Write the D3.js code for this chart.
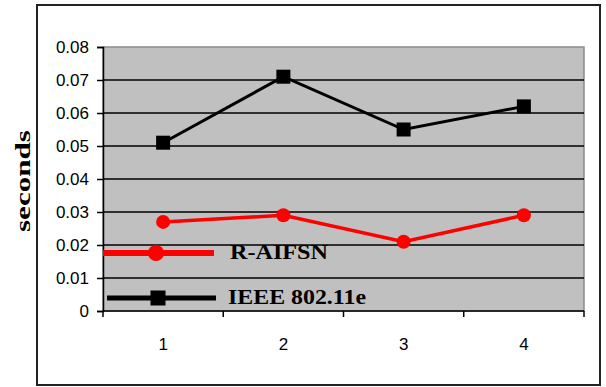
<!DOCTYPE html>
<html>
<head>
<meta charset="utf-8">
<script src="https://cdn.jsdelivr.net/npm/d3@7"></script>
<style>
  body { margin: 0; background: #fff; }
  svg { display: block; }
</style>
</head>
<body>
<div id="chart"></div>
<script>
// data
const categories = ["1", "2", "3", "4"];
const yTicks = [0, 0.01, 0.02, 0.03, 0.04, 0.05, 0.06, 0.07, 0.08];
const raifsn = [0.027, 0.029, 0.021, 0.029];
const ieee = [0.051, 0.071, 0.055, 0.062];
const seriesNames = ["R-AIFSN", "IEEE 802.11e"];

const W = 606, H = 387;
const plot = { left: 103, top: 47, right: 584, bottom: 311 };

const svg = d3.select("#chart").append("svg")
    .attr("width", W)
    .attr("height", H);

// outer frame
svg.append("rect")
    .attr("x", 37).attr("y", 5)
    .attr("width", 563).attr("height", 380)
    .attr("fill", "#fff")
    .attr("stroke", "#222")
    .attr("stroke-width", 2);

const x = d3.scaleBand()
    .domain(categories)
    .range([plot.left, plot.right]);

const y = d3.scaleLinear()
    .domain([0, 0.08])
    .range([plot.bottom, plot.top]);

// plot background
svg.append("rect")
    .attr("x", plot.left).attr("y", plot.top)
    .attr("width", plot.right - plot.left)
    .attr("height", plot.bottom - plot.top)
    .attr("fill", "#c0c0c0")
    .attr("stroke", "#8a8a8a")
    .attr("stroke-width", 1.5);

// gridlines
svg.append("g")
    .selectAll("line")
    .data(yTicks.filter(d => d > 0 && d < 0.08))
    .enter().append("line")
    .attr("x1", plot.left).attr("x2", plot.right)
    .attr("y1", d => y(d)).attr("y2", d => y(d))
    .attr("stroke", "#000")
    .attr("stroke-width", 1.5);

// y axis
const yAxis = svg.append("g")
    .attr("transform", `translate(${plot.left},0)`)
    .call(d3.axisLeft(y).tickValues(yTicks).tickSize(6).tickPadding(8)
        .tickFormat(d => d === 0 ? "0" : d3.format(".2f")(d)));
yAxis.select(".domain").attr("stroke", "#000").attr("stroke-width", 1.5);
yAxis.selectAll(".tick line").attr("stroke", "#000").attr("stroke-width", 1.5);
yAxis.selectAll("text")
    .attr("fill", "#000")
    .style("font-family", "'Liberation Sans', Arial, sans-serif")
    .style("font-size", "17px");

// x axis: ticks sit on band edges, labels in the middle
const xAxis = svg.append("g")
    .attr("transform", `translate(0,${plot.bottom})`);
xAxis.append("line")
    .attr("x1", plot.left).attr("x2", plot.right)
    .attr("stroke", "#000").attr("stroke-width", 1.5);
const edges = categories.map(c => x(c)).concat([x(categories[categories.length - 1]) + x.bandwidth()]);
xAxis.selectAll(".xt")
    .data(edges)
    .enter().append("line")
    .attr("class", "xt")
    .attr("x1", d => d).attr("x2", d => d)
    .attr("y1", 0).attr("y2", 6)
    .attr("stroke", "#000").attr("stroke-width", 1.5);
xAxis.selectAll(".xl")
    .data(categories)
    .enter().append("text")
    .attr("class", "xl")
    .attr("x", d => x(d) + x.bandwidth() / 2)
    .attr("y", 39)
    .attr("text-anchor", "middle")
    .style("font-family", "'Liberation Sans', Arial, sans-serif")
    .style("font-size", "17px")
    .text(d => d);

// y axis title
svg.append("text")
    .attr("transform", "translate(30,181) rotate(-90)")
    .attr("text-anchor", "middle")
    .style("font-family", "'Liberation Serif', 'Times New Roman', serif")
    .style("font-weight", "bold")
    .style("font-size", "21px")
    .attr("textLength", 102)
    .attr("lengthAdjust", "spacingAndGlyphs")
    .text("seconds");

const cx = d => x(d) + x.bandwidth() / 2;
const line = d3.line()
    .x((d, i) => cx(categories[i]))
    .y(d => y(d));

// IEEE 802.11e series
svg.append("path")
    .datum(ieee)
    .attr("d", line)
    .attr("fill", "none")
    .attr("stroke", "#000")
    .attr("stroke-width", 3);
svg.selectAll(".sq")
    .data(ieee)
    .enter().append("rect")
    .attr("class", "sq")
    .attr("x", (d, i) => cx(categories[i]) - 7)
    .attr("y", d => y(d) - 7)
    .attr("width", 14).attr("height", 14)
    .attr("fill", "#000");

// R-AIFSN series
svg.append("path")
    .datum(raifsn)
    .attr("d", line)
    .attr("fill", "none")
    .attr("stroke", "#ff0000")
    .attr("stroke-width", 3.5);
svg.selectAll(".dot")
    .data(raifsn)
    .enter().append("circle")
    .attr("class", "dot")
    .attr("cx", (d, i) => cx(categories[i]))
    .attr("cy", d => y(d))
    .attr("r", 7)
    .attr("fill", "#ff0000");

// legend (drawn inside the plot area)
const legend = svg.append("g");
const legendRows = [
  { name: seriesNames[0], color: "#ff0000", y: 253, x1: 103, x2: 214, mx: 156, tx: 230, tw: 98, shape: "circle" },
  { name: seriesNames[1], color: "#000", y: 298, x1: 107, x2: 216, mx: 158, tx: 228, tw: 138, shape: "square" }
];
legendRows.forEach(r => {
  legend.append("line")
      .attr("x1", r.x1).attr("x2", r.x2)
      .attr("y1", r.y).attr("y2", r.y)
      .attr("stroke", r.color)
      .attr("stroke-width", r.shape === "circle" ? 6 : 5);
  if (r.shape === "circle") {
    legend.append("circle")
        .attr("cx", r.mx).attr("cy", r.y).attr("r", 8)
        .attr("fill", r.color);
  } else {
    legend.append("rect")
        .attr("x", r.mx - 7.5).attr("y", r.y - 7.5)
        .attr("width", 15).attr("height", 15)
        .attr("fill", r.color);
  }
  legend.append("text")
      .attr("x", r.tx)
      .attr("y", r.y + 6)
      .style("font-family", "'Liberation Serif', 'Times New Roman', serif")
      .style("font-weight", "bold")
      .style("font-size", "22px")
      .attr("textLength", r.tw)
      .attr("lengthAdjust", "spacingAndGlyphs")
      .text(r.name);
});
</script>
</body>
</html>
